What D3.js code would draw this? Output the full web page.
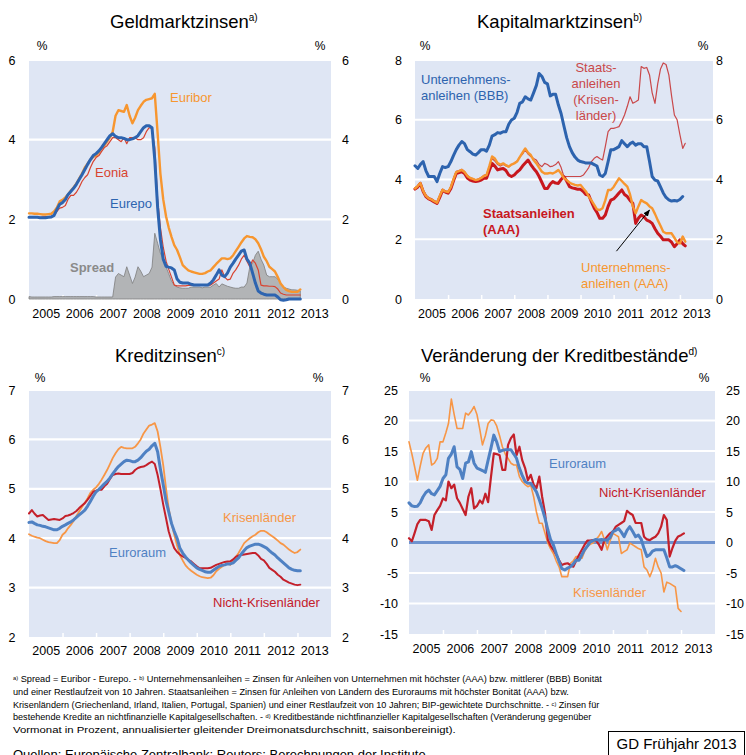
<!DOCTYPE html>
<html>
<head>
<meta charset="utf-8">
<title>Zinsen und Kredite</title>
<script src="https://cdn.jsdelivr.net/npm/d3@7"></script>
<style>
  html, body { margin: 0; padding: 0; background: #fff; }
  svg { display: block; font-family: "Liberation Sans", Arial, sans-serif; }
</style>
</head>
<body>
<svg id="chart" width="746" height="755"></svg>
<script>
// monthly values, starting January 2005
var years = [2005, 2006, 2007, 2008, 2009, 2010, 2011, 2012, 2013]

// Geldmarktzinsen
var euribor = [
  2.15, 2.15, 2.14, 2.14, 2.13, 2.12, 2.12, 2.13, 2.14, 2.2, 2.3, 2.45,
  2.49, 2.55, 2.62, 2.72, 2.8, 2.9, 3.02, 3.15, 3.3, 3.4, 3.5, 3.57,
  3.6, 3.68, 3.78, 3.85, 3.95, 4.05, 4.2, 4.6, 4.74, 4.72, 4.7, 4.87,
  4.6, 4.41, 4.55, 4.74, 4.85, 4.95, 5.0, 5.02, 5.04, 5.15, 4.16, 3.15,
  2.5, 2.07, 1.8, 1.56, 1.35, 1.23, 1.05, 0.85, 0.78, 0.72, 0.69, 0.67,
  0.65, 0.63, 0.63, 0.65, 0.69, 0.72, 0.8, 0.88, 0.95, 1.02, 1.02, 1.0,
  1.02, 1.1, 1.2, 1.31, 1.42, 1.52, 1.58, 1.56, 1.55, 1.5, 1.4, 1.25,
  1.06, 0.95, 0.81, 0.75, 0.69, 0.55, 0.39, 0.3, 0.23, 0.2, 0.18, 0.18,
  0.18, 0.24
]
var eonia = [
  2.06, 2.06, 2.05, 2.05, 2.05, 2.06, 2.07, 2.07, 2.08, 2.1, 2.2, 2.28,
  2.3, 2.35, 2.5, 2.6, 2.6, 2.68, 2.8, 2.95, 3.05, 3.12, 3.3, 3.45,
  3.55, 3.6, 3.7, 3.8, 3.85, 3.95, 4.05, 4.05, 4.0, 3.95, 4.05, 3.9,
  4.05, 4.05, 4.05, 4.0, 4.0, 4.05, 4.2, 4.3, 4.28, 3.8, 2.5, 1.8,
  1.3, 0.95, 0.75, 0.55, 0.35, 0.33, 0.33, 0.33, 0.33, 0.34, 0.34, 0.34,
  0.34, 0.34, 0.34, 0.34, 0.34, 0.35, 0.4, 0.45, 0.5, 0.73, 0.55, 0.48,
  0.5, 0.65, 0.73, 0.85, 1.0, 1.1, 0.95, 0.81, 0.98, 0.9, 0.73, 0.35,
  0.33, 0.33, 0.32, 0.32, 0.31, 0.25, 0.15, 0.12, 0.1, 0.1, 0.1, 0.1,
  0.1, 0.1
]
var eurepo = [
  2.05, 2.05, 2.05, 2.05, 2.04, 2.04, 2.04, 2.05, 2.06, 2.1, 2.25, 2.38,
  2.42, 2.5, 2.62, 2.7, 2.78, 2.88, 3.0, 3.12, 3.25, 3.38, 3.5, 3.6,
  3.65, 3.72, 3.8, 3.9, 4.0, 4.1, 4.15, 4.08, 4.05, 4.05, 4.03, 4.0,
  4.0, 4.02, 4.05, 4.1, 4.2, 4.3, 4.35, 4.35, 4.3, 3.5, 2.3, 1.5,
  1.0, 0.82, 0.8, 0.78, 0.73, 0.5, 0.42, 0.4, 0.4, 0.4, 0.37, 0.35,
  0.35, 0.35, 0.35, 0.35, 0.35, 0.4, 0.48, 0.6, 0.73, 0.6, 0.56, 0.65,
  0.8, 0.9, 1.0, 1.1, 1.2, 1.23, 1.0, 0.9, 0.65, 0.4, 0.2, 0.15,
  0.12, 0.1, 0.1, 0.1, 0.1, 0.05, -0.02, -0.03, -0.02, 0.0, 0.0, 0.0,
  0.0, 0.0
]
var spread = [
  0.06, 0.05, 0.05, 0.05, 0.05, 0.05, 0.05, 0.05, 0.05, 0.06, 0.06, 0.06,
  0.06, 0.06, 0.06, 0.06, 0.06, 0.06, 0.06, 0.06, 0.06, 0.06, 0.06, 0.06,
  0.05, 0.05, 0.05, 0.05, 0.05, 0.05, 0.05, 0.55, 0.64, 0.6, 0.56, 0.81,
  0.6, 0.39, 0.55, 0.81, 0.7, 0.56, 0.6, 0.64, 0.8, 1.65, 1.4, 1.15,
  1.0, 0.8, 0.64, 0.45, 0.35, 0.3, 0.28, 0.27, 0.27, 0.27, 0.3, 0.3,
  0.3, 0.3, 0.28, 0.3, 0.3, 0.3, 0.35, 0.39, 0.3, 0.38, 0.35, 0.32,
  0.3, 0.28, 0.27, 0.27, 0.3, 0.3, 0.4, 0.8, 0.9, 1.1, 1.2, 1.0,
  0.85, 0.6, 0.56, 0.56, 0.56, 0.5, 0.4, 0.3, 0.27, 0.25, 0.23, 0.23,
  0.22, 0.2
]

// Kapitalmarktzinsen
var bbb = [
  4.46, 4.37, 4.5, 4.6, 4.3, 4.1, 4.1, 4.1, 3.93, 4.2, 4.43, 4.4,
  4.43, 4.6, 4.8, 5.0, 5.15, 5.27, 5.2, 5.0, 4.93, 4.85, 4.82, 4.9,
  5.0, 5.0, 4.95, 5.15, 5.45, 5.5, 5.57, 5.55, 5.6, 5.6, 5.85, 5.99,
  6.05, 6.25, 6.55, 6.6, 6.77, 6.7, 6.66, 6.9, 7.15, 7.55, 7.45, 7.25,
  7.2, 6.8, 6.85, 6.85, 6.5, 6.2, 5.8, 5.4, 5.1, 4.9, 4.75, 4.65,
  4.6, 4.58, 4.55, 4.55, 4.55, 4.5, 4.45, 4.15, 4.1, 4.2, 4.6, 5.0,
  5.0, 5.05, 5.1, 5.3, 5.2, 5.1, 5.2, 5.25, 5.15, 5.2, 5.2, 5.1,
  5.1, 4.6, 4.1, 3.98, 3.95, 3.75, 3.55, 3.4, 3.32, 3.28, 3.3, 3.28,
  3.33, 3.43
]
var staatKrisen = [
  3.72, 3.8, 3.9, 3.65, 3.48, 3.4, 3.36, 3.3, 3.25, 3.45, 3.68, 3.62,
  3.6, 3.76, 4.02, 4.27, 4.3, 4.34, 4.27, 4.14, 4.06, 4.03, 3.99, 4.02,
  4.07, 4.14, 4.17, 4.45, 4.7, 4.62, 4.5, 4.45, 4.5, 4.45, 4.42, 4.5,
  4.55, 4.62, 4.75, 4.85, 4.99, 4.85, 4.77, 4.7, 4.65, 4.5, 4.43, 4.54,
  4.5, 4.43, 4.45, 4.5, 4.6, 4.4, 4.1, 4.1, 4.1, 4.1, 4.1, 4.1,
  4.1, 4.15, 4.26, 4.4, 4.6, 4.71, 4.77, 4.7, 4.65, 5.1, 5.6, 5.71,
  5.71, 5.74, 5.77, 5.95, 6.16, 6.45, 6.77, 6.55, 6.6, 6.66, 7.78, 7.72,
  7.75, 7.5, 6.9, 6.55, 7.2, 7.7, 7.9, 7.85, 7.5, 6.8, 6.16, 6.0,
  5.5, 5.04, 5.21
]
var staatAAA = [
  3.68, 3.75, 3.87, 3.6, 3.43, 3.35, 3.31, 3.25, 3.2, 3.4, 3.63, 3.58,
  3.54, 3.7, 3.95, 4.2, 4.23, 4.26, 4.2, 4.05, 3.98, 3.95, 3.93, 3.95,
  3.98, 4.04, 4.04, 4.3, 4.54, 4.45, 4.32, 4.35, 4.37, 4.3, 4.15, 4.1,
  4.15, 4.25, 4.32, 4.45, 4.55, 4.65, 4.5, 4.37, 4.26, 4.1, 3.9, 3.7,
  3.7, 3.85, 3.93, 3.88, 3.87, 4.0, 4.1, 3.95, 3.76, 3.72, 3.7, 3.67,
  3.67, 3.6, 3.5, 3.48, 3.25, 3.04, 2.9, 2.7, 2.7, 2.81, 3.1, 3.31,
  3.35, 3.45, 3.55, 3.65, 3.5, 3.43, 3.3, 3.2, 2.53, 2.7, 2.81, 2.75,
  2.64, 2.6, 2.53, 2.35, 2.2, 2.1, 1.98, 1.98, 1.98, 1.9, 1.75, 1.85,
  1.98, 1.85, 1.78
]
var untAAA = [
  3.7, 3.78, 3.88, 3.62, 3.45, 3.37, 3.33, 3.27, 3.22, 3.45, 3.66, 3.6,
  3.58, 3.75, 4.0, 4.25, 4.28, 4.32, 4.25, 4.12, 4.05, 4.02, 3.98, 4.0,
  4.05, 4.12, 4.15, 4.45, 4.77, 4.7, 4.55, 4.5, 4.54, 4.48, 4.43, 4.5,
  4.54, 4.6, 4.75, 4.9, 5.04, 4.9, 4.82, 4.65, 4.54, 4.4, 4.26, 4.2,
  4.2, 4.22, 4.2, 4.25, 4.32, 4.2, 4.05, 3.98, 3.9, 3.85, 3.82, 3.8,
  3.82, 3.7, 3.6, 3.43, 3.3, 3.15, 3.0, 2.98, 3.04, 3.3, 3.65, 3.65,
  3.75, 3.9, 4.04, 3.95, 3.85, 3.76, 3.5, 3.1, 2.87, 3.1, 3.31, 3.25,
  3.2, 3.1, 3.04, 2.85, 2.64, 2.45, 2.25, 2.2, 2.2, 2.2, 2.05, 1.9,
  1.86, 2.09, 1.92
]

// Kreditzinsen
var kzEuro = [
  4.32, 4.33, 4.3, 4.27, 4.26, 4.24, 4.23, 4.21, 4.19, 4.17, 4.17, 4.2,
  4.24, 4.27, 4.3, 4.33, 4.37, 4.42, 4.47, 4.52, 4.57, 4.65, 4.75, 4.85,
  4.94, 4.99, 5.04, 5.1, 5.15, 5.22, 5.3, 5.38, 5.45, 5.5, 5.55, 5.58,
  5.57, 5.55, 5.55, 5.58, 5.63, 5.7, 5.76, 5.8, 5.87, 5.92, 5.75, 5.4,
  5.08, 4.75, 4.54, 4.3, 4.14, 4.0, 3.8, 3.7, 3.62, 3.56, 3.5, 3.45,
  3.4, 3.37, 3.35, 3.32, 3.31, 3.31, 3.35, 3.39, 3.43, 3.45, 3.46, 3.48,
  3.48, 3.5, 3.55, 3.6, 3.68, 3.75, 3.81, 3.84, 3.86, 3.88, 3.88, 3.86,
  3.83, 3.8, 3.75, 3.7, 3.66, 3.6, 3.55, 3.5, 3.45, 3.4, 3.37, 3.35,
  3.34, 3.34
]
var kzKrisen = [
  4.08, 4.05, 4.03, 4.01, 4.0, 3.97, 3.94, 3.92, 3.91, 3.9, 3.9, 3.96,
  4.07, 4.12, 4.2, 4.27, 4.35, 4.45, 4.54, 4.63, 4.72, 4.81, 4.92, 4.98,
  5.03, 5.1, 5.18, 5.28, 5.38, 5.5, 5.62, 5.72, 5.8, 5.85, 5.83, 5.82,
  5.82, 5.82, 5.85, 5.92, 6.0, 6.12, 6.2, 6.28, 6.3, 6.33, 6.16, 5.85,
  5.48, 5.0, 4.61, 4.3, 4.07, 3.85, 3.66, 3.55, 3.45, 3.39, 3.34, 3.3,
  3.26, 3.23, 3.21, 3.2, 3.19, 3.2, 3.25, 3.33, 3.38, 3.42, 3.46, 3.5,
  3.46, 3.55, 3.62, 3.7, 3.8, 3.9, 3.95, 4.0, 4.04, 4.07, 4.12, 4.15,
  4.15, 4.12, 4.08, 4.04, 4.0, 3.95, 3.9, 3.87, 3.82, 3.77, 3.73, 3.7,
  3.72, 3.77
]
var kzNicht = [
  4.5, 4.57, 4.5, 4.44, 4.46, 4.47, 4.42, 4.37, 4.38, 4.39, 4.38, 4.37,
  4.4, 4.45, 4.46, 4.48, 4.51, 4.55, 4.61, 4.66, 4.71, 4.78, 4.86, 4.94,
  4.96, 4.98, 4.98, 5.05, 5.1, 5.2, 5.28, 5.3, 5.31, 5.3, 5.3, 5.3,
  5.3, 5.32, 5.38, 5.42, 5.44, 5.45, 5.48, 5.52, 5.55, 5.5, 5.28, 5.0,
  4.68, 4.4, 4.14, 3.95, 3.8, 3.72, 3.67, 3.63, 3.6, 3.56, 3.53, 3.48,
  3.43, 3.39, 3.39, 3.39, 3.39, 3.4, 3.43, 3.46, 3.48, 3.5, 3.52, 3.53,
  3.53, 3.57, 3.62, 3.65, 3.66, 3.67, 3.68, 3.69, 3.7, 3.7, 3.65, 3.58,
  3.55, 3.48, 3.4, 3.36, 3.32, 3.26, 3.22, 3.16, 3.13, 3.1, 3.08, 3.06,
  3.05, 3.06
]

// Veränderung der Kreditbestände
var kbEuro = [
  6.5, 6.0, 5.9, 5.95, 6.5, 7.5, 8.2, 8.6, 8.0, 7.8, 8.5, 9.2,
  10.5, 11.1, 13.8, 14.5, 15.7, 12.4, 12.0, 10.5, 13.0, 13.2, 14.9, 13.0,
  12.2, 12.0, 11.8, 11.5, 13.5, 15.5, 17.6, 16.5, 14.9, 15.1, 15.2, 15.2,
  15.2, 14.5, 13.8, 12.2, 11.0, 10.0, 9.7, 9.7, 9.0, 8.3, 7.0, 5.6,
  4.0, 2.05, 0.5, -0.4, -1.8, -3.1, -4.3, -4.5, -4.2, -3.97, -3.5, -2.9,
  -2.9, -2.0, -1.2, -0.6, 0.1, 0.3, 0.5, 0.4, 0.5, 0.4, 0.4, 0.8,
  1.8, 2.0, 2.3, 1.7, 0.95, 2.0, 2.6, 1.8, 0.95, 1.2, 0.5, -1.0,
  -2.3, -2.0, -1.4, -1.2, -1.2, -1.2, -1.2, -2.5, -4.0, -4.0, -3.8, -4.0,
  -4.3, -4.6
]
var kbNicht = [
  0.7, 0.2, 1.5, 3.0, 3.7, 3.7, 3.7, 3.5, 2.05, 4.5, 5.3, 6.0,
  7.25, 6.9, 10.0, 8.9, 9.5, 7.25, 6.5, 5.5, 4.5, 7.5, 8.9, 5.6,
  6.0, 6.9, 6.4, 8.0, 6.6, 10.8, 14.6, 14.5, 14.3, 11.9, 11.9, 16.0,
  17.1, 17.7, 14.3, 15.7, 13.5, 12.2, 10.2, 11.1, 9.5, 8.9, 10.8, 7.5,
  4.8, 0.4, -0.5, -1.2, -2.0, -2.9, -3.7, -3.5, -3.4, -3.7, -3.97, -3.0,
  -2.05, -1.2, -0.4, 0.3, 0.3, 0.4, 0.4, -0.3, -1.2, 0.4, 1.0, 1.5,
  1.8, 2.6, 2.9, 3.2, 3.5, 5.2, 4.8, 4.5, 3.2, 3.2, 3.2, 0.95,
  0.5, 0.4, 0.7, 0.95, 1.5, 2.6, 4.5, 3.7, -2.3, -0.9, 0.3, 1.0,
  1.2, 1.5
]
var kbKrisen = [
  16.5, 14.5, 12.5, 10.2, 12.5, 14.6, 15.5, 16.0, 12.7, 13.0, 13.8, 16.5,
  16.5, 18.0, 19.5, 23.5, 21.0, 18.7, 18.7, 18.7, 21.2, 20.9, 21.5, 22.3,
  21.0, 18.5, 16.0, 17.5, 19.5, 20.1, 20.0, 19.1, 17.5, 15.7, 14.5, 13.8,
  13.0, 12.7, 12.7, 10.8, 10.0, 9.5, 9.15, 9.4, 7.5, 5.0, 3.15, 3.15,
  1.5, -0.1, -1.0, -1.8, -3.0, -4.0, -5.6, -5.6, -5.6, -3.4, -3.0, -2.3,
  -2.3, -2.6, -1.5, -0.7, -0.3, -0.1, 0.5, 1.0, 1.8, 0.5, -1.2, 0.3,
  1.5, 1.2, 0.95, -1.8, -1.5, -1.2, -0.1, -0.4, -0.7, -1.0, -1.2, -4.0,
  -4.5, -5.6, -4.5, -2.6, -4.0, -5.0, -8.1, -6.5, -6.7, -7.0, -7.3, -10.8,
  -11.3
]

var bg = '#dfe6f4'
var orange = '#f7962f'
var svg = d3.select('#chart')

svg.append('defs').append('marker')
  .attr('id', 'arrow').attr('viewBox', '0 0 10 10')
  .attr('refX', 9).attr('refY', 5)
  .attr('markerWidth', 7).attr('markerHeight', 7)
  .attr('orient', 'auto')
  .append('path').attr('d', 'M0,1L10,5L0,9z').attr('fill', '#000')

function monthDate(i) { return new Date(2005, i, 1) }

// one panel: background, grid, axes, titles
function panel(p) {
  var x = d3.scaleTime()
    .domain([new Date(2005, 0, 1), new Date(2014, 0, 1)])
    .range([p.left, p.right])
  var y = d3.scaleLinear().domain(p.yDomain).range([p.bottom, p.top])
  var g = svg.append('g')

  g.append('rect')
    .attr('x', p.left).attr('y', p.top)
    .attr('width', p.right - p.left).attr('height', p.bottom - p.top)
    .attr('fill', bg)

  g.selectAll('line.grid')
    .data(p.yTicks.filter(function (d) { return d !== p.yDomain[0] }))
    .enter().append('line')
    .attr('class', 'grid')
    .attr('x1', p.left).attr('x2', p.right)
    .attr('y1', function (d) { return y(d) }).attr('y2', function (d) { return y(d) })
    .attr('stroke', '#fff').attr('stroke-width', 2.2)

  // year boundary ticks, pointing inward
  var tickAxis = d3.axisBottom(x)
    .tickValues(d3.range(2006, 2014).map(function (yr) { return new Date(yr, 0, 1) }))
    .tickSize(-4).tickFormat('')
  var ta = g.append('g').attr('transform', 'translate(0,' + p.bottom + ')').call(tickAxis)
  ta.select('.domain').remove()
  ta.selectAll('line').attr('stroke', '#fff').attr('stroke-width', 1.5)

  var fmt = function (d) { return String(d) }
  var la = g.append('g').attr('transform', 'translate(' + p.leftLab + ',0)')
    .call(d3.axisLeft(y).tickValues(p.yTicks).tickSize(0).tickPadding(0).tickFormat(fmt))
  var ra = g.append('g').attr('transform', 'translate(' + p.rightLab + ',0)')
    .call(d3.axisRight(y).tickValues(p.yTicks).tickSize(0).tickPadding(0).tickFormat(fmt))
  ;[la, ra].forEach(function (a) {
    a.select('.domain').remove()
    a.selectAll('text').attr('font-size', 12.5).attr('fill', '#000')
      .attr('font-family', '"Liberation Sans", Arial, sans-serif')
  })

  var ya = g.append('g').attr('transform', 'translate(0,' + p.yearBase + ')')
    .call(d3.axisBottom(x)
      .tickValues(years.map(function (yr) { return new Date(yr, 6, 2) }))
      .tickSize(0).tickPadding(0)
      .tickFormat(d3.timeFormat('%Y')))
  ya.select('.domain').remove()
  ya.selectAll('text').attr('y', 0).attr('dy', null)
    .attr('font-size', 12.5).attr('fill', '#000')
    .attr('font-family', '"Liberation Sans", Arial, sans-serif')

  g.append('text').attr('x', p.pctL).attr('y', p.pctY).attr('font-size', 12)
    .attr('text-anchor', 'middle').text('%')
  g.append('text').attr('x', p.pctR).attr('y', p.pctY).attr('font-size', 12)
    .attr('text-anchor', 'middle').text('%')

  var t = g.append('text').attr('x', p.titleX).attr('y', p.titleY).attr('font-size', 18.5)
  t.append('tspan').text(p.title)
  t.append('tspan').attr('font-size', 10).attr('dy', -7).text(p.sup)

  p.x = x
  p.y = y
  p.g = g
  return p
}

function drawLine(p, values, color, width) {
  var line = d3.line()
    .x(function (d, i) { return p.x(monthDate(i)) })
    .y(function (d) { return p.y(d) })
  p.g.append('path').datum(values)
    .attr('d', line).attr('fill', 'none')
    .attr('stroke', color).attr('stroke-width', width)
    .attr('stroke-linejoin', 'round').attr('stroke-linecap', 'round')
}

function label(p, lines, x, y, color, bold, anchor) {
  var t = p.g.append('text').attr('x', x).attr('y', y)
    .attr('font-size', 13).attr('fill', color)
    .attr('text-anchor', anchor || 'start')
    .attr('font-weight', bold ? 'bold' : null)
  lines.forEach(function (s, i) {
    t.append('tspan').attr('x', x).attr('dy', i === 0 ? 0 : 16).text(s)
  })
}

// Geldmarktzinsen
var p1 = panel({
  left: 29, right: 331, top: 60, bottom: 299,
  yDomain: [0, 6], yTicks: [0, 2, 4, 6],
  leftLab: 15.5, rightLab: 342, yearBase: 317.5,
  pctL: 42, pctR: 320, pctY: 50,
  title: 'Geldmarktzinsen', sup: 'a)', titleX: 110, titleY: 28
})
var spreadArea = d3.area()
  .x(function (d, i) { return p1.x(monthDate(i)) })
  .y0(p1.y(0))
  .y1(function (d) { return p1.y(d) })
p1.g.append('path').datum(spread)
  .attr('d', spreadArea).attr('fill', '#b2b4b6')
  .attr('stroke', '#7d7d7d').attr('stroke-width', 0.8)
drawLine(p1, euribor, orange, 2.4)
drawLine(p1, eonia, '#d8432f', 1.2)
drawLine(p1, eurepo, '#2d64b0', 3)
label(p1, ['Euribor'], 170, 102, orange)
label(p1, ['Eonia'], 95, 177, '#d8432f')
label(p1, ['Eurepo'], 110, 208, '#2d64b0')
label(p1, ['Spread'], 70, 272, '#8a8a8a', true)

// Kapitalmarktzinsen
var p2 = panel({
  left: 415, right: 713, top: 60, bottom: 299,
  yDomain: [0, 8], yTicks: [0, 2, 4, 6, 8],
  leftLab: 402, rightLab: 716, yearBase: 317.5,
  pctL: 425, pctR: 703, pctY: 50,
  title: 'Kapitalmarktzinsen', sup: 'b)', titleX: 477, titleY: 28
})
drawLine(p2, staatKrisen, '#c9484a', 1.2)
drawLine(p2, bbb, '#2d63ae', 3)
drawLine(p2, staatAAA, '#c8171e', 3)
drawLine(p2, untAAA, orange, 2.4)
label(p2, ['Unternehmens-', 'anleihen (BBB)'], 421, 84, '#2d63ae')
label(p2, ['Staats-', 'anleihen', '(Krisen-', 'länder)'], 596, 72, '#c9484a', false, 'middle')
label(p2, ['Staatsanleihen', '(AAA)'], 483, 218, '#c8171e', true)
label(p2, ['Unternehmens-', 'anleihen (AAA)'], 581, 272, orange)
p2.g.append('line')
  .attr('x1', p2.x(new Date(2011, 1, 1))).attr('y1', p2.y(1.6))
  .attr('x2', p2.x(new Date(2012, 1, 1))).attr('y2', p2.y(2.98))
  .attr('stroke', '#000').attr('stroke-width', 1)
  .attr('marker-end', 'url(#arrow)')

// Kreditzinsen
var p3 = panel({
  left: 29, right: 331, top: 390, bottom: 637,
  yDomain: [2, 7], yTicks: [2, 3, 4, 5, 6, 7],
  leftLab: 15.5, rightLab: 342, yearBase: 654.5,
  pctL: 40, pctR: 318, pctY: 382,
  title: 'Kreditzinsen', sup: 'c)', titleX: 115, titleY: 362
})
drawLine(p3, kzKrisen, '#f79646', 1.8)
drawLine(p3, kzNicht, '#c4202a', 2)
drawLine(p3, kzEuro, '#4f81c3', 3)
label(p3, ['Krisenländer'], 223, 522, '#f79646')
label(p3, ['Euroraum'], 109, 557, '#4f81c3')
label(p3, ['Nicht-Krisenländer'], 213, 607, '#c4202a')

// Veränderung der Kreditbestände
var p4 = panel({
  left: 409, right: 715, top: 390, bottom: 634,
  yDomain: [-15, 25], yTicks: [-15, -10, -5, 0, 5, 10, 15, 20, 25],
  leftLab: 398, rightLab: 726, yearBase: 652.5,
  pctL: 425, pctR: 704, pctY: 382,
  title: 'Veränderung der Kreditbestände', sup: 'd)', titleX: 421, titleY: 362
})
p4.g.append('line')
  .attr('x1', p4.left).attr('x2', p4.right)
  .attr('y1', p4.y(0)).attr('y2', p4.y(0))
  .attr('stroke', '#6f93cf').attr('stroke-width', 3)
drawLine(p4, kbKrisen, '#f79646', 1.6)
drawLine(p4, kbNicht, '#c4202a', 2.2)
drawLine(p4, kbEuro, '#4f81c3', 3)
label(p4, ['Euroraum'], 549, 468, '#4f81c3')
label(p4, ['Nicht-Krisenländer'], 599, 497, '#c4202a')
label(p4, ['Krisenländer'], 573, 597, '#f79646')

// footnotes (squeezed horizontally to the widths in the original)
var notes = [
  [['a)', true], [' Spread = Euribor - Eurepo. - '], ['b)', true], [' Unternehmensanleihen = Zinsen für Anleihen von Unternehmen mit höchster (AAA) bzw. mittlerer (BBB) Bonität']],
  [['und einer Restlaufzeit von 10 Jahren. Staatsanleihen = Zinsen für Anleihen von Ländern des Euroraums mit höchster Bonität (AAA) bzw.']],
  [['Krisenländern (Griechenland, Irland, Italien, Portugal, Spanien) und einer Restlaufzeit von 10 Jahren; BIP-gewichtete Durchschnitte. - '], ['c)', true], [' Zinsen für']],
  [['bestehende Kredite an nichtfinanzielle Kapitalgesellschaften. - '], ['d)', true], [' Kreditbestände nichtfinanzieller Kapitalgesellschaften (Veränderung gegenüber']],
  [['Vormonat in Prozent, annualisierter gleitender Dreimonatsdurchschnitt, saisonbereinigt).']]
]
var noteWidths = [589, 556, 587, 579, 443]
notes.forEach(function (parts, i) {
  var t = svg.append('text').attr('x', 0).attr('y', 0)
    .attr('font-size', 9.3).attr('fill', '#000')
  var up = false
  parts.forEach(function (pt) {
    var s = t.append('tspan').text(pt[0])
    if (pt[1]) { s.attr('font-size', 5.8).attr('dy', -2); up = true }
    else if (up) { s.attr('dy', 2); up = false }
  })
  var w = t.node().getComputedTextLength()
  var sx = w > 0 ? noteWidths[i] / w : 1
  t.attr('transform', 'translate(13,' + (682 + i * 12.8) + ') scale(' + sx + ',1)')
})
svg.append('text').attr('x', 13).attr('y', 759).attr('font-size', 13)
  .text('Quellen: Europäische Zentralbank; Reuters; Berechnungen der Institute')

svg.append('rect').attr('x', 608.5).attr('y', 731.5).attr('width', 136).attr('height', 24)
  .attr('fill', '#fff').attr('stroke', '#000').attr('stroke-width', 1)
svg.append('text').attr('x', 676.5).attr('y', 749).attr('font-size', 15)
  .attr('text-anchor', 'middle').text('GD Frühjahr 2013')
</script>
</body>
</html>
